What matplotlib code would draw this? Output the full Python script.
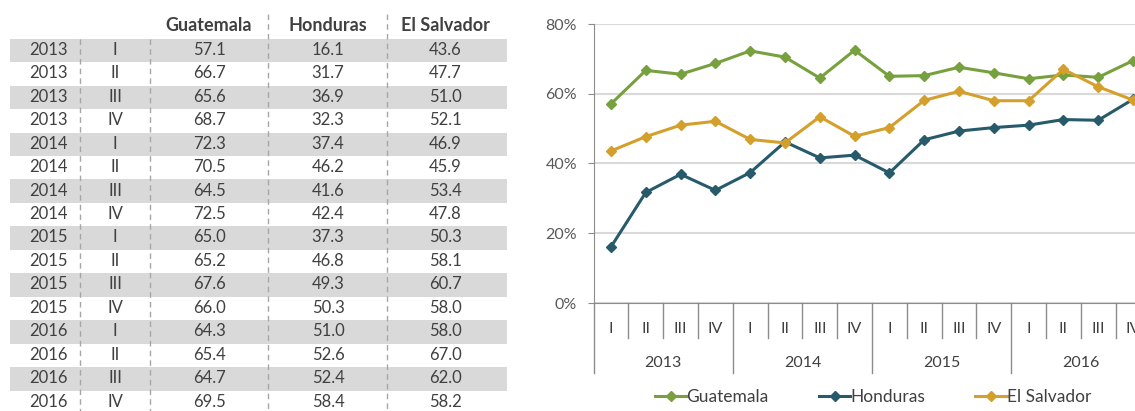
import matplotlib.pyplot as plt
from matplotlib.ticker import PercentFormatter
import matplotlib.transforms as mtransforms

plt.rcParams['font.family'] = ['Lato', 'DejaVu Sans']

# datos
years = ["2013"] * 4 + ["2014"] * 4 + ["2015"] * 4 + ["2016"] * 4
quarters = ["I", "II", "III", "IV"] * 4
guatemala = [57.1, 66.7, 65.6, 68.7, 72.3, 70.5, 64.5, 72.5,
             65.0, 65.2, 67.6, 66.0, 64.3, 65.4, 64.7, 69.5]
honduras = [16.1, 31.7, 36.9, 32.3, 37.4, 46.2, 41.6, 42.4,
            37.3, 46.8, 49.3, 50.3, 51.0, 52.6, 52.4, 58.4]
el_salvador = [43.6, 47.7, 51.0, 52.1, 46.9, 45.9, 53.4, 47.8,
               50.3, 58.1, 60.7, 58.0, 58.0, 67.0, 62.0, 58.2]
countries = ["Guatemala", "Honduras", "El Salvador"]
colors = ["#77a03f", "#275b6b", "#d4a02b"]

W, H = 1135, 411
fig = plt.figure(figsize=(W / 100, H / 100), dpi=100)

# ---- tabla ----
row_h = 23.45
top = 13
n = len(years)
tab_left, tab_w = 10, 497
tab_bottom = top + (n + 1.1) * row_h
ax_t = fig.add_axes([tab_left / W, 1 - tab_bottom / H, tab_w / W, (tab_bottom - top) / H])
ax_t.set_xlim(0, tab_w)
ax_t.set_ylim(n, -1.1)
ax_t.axis("off")

txt_color = "#404040"
col_x = [38, 105, 199, 318, 435]
sep_x = [70, 140, 258, 377]
for j, name in enumerate(countries):
    ax_t.text(col_x[j + 2], -0.55, name, ha="center", va="center",
              fontsize=13, fontweight="bold", color=txt_color)
for i in range(n):
    if i % 2 == 0:
        ax_t.axhspan(i, i + 1, color="#d9d9d9", lw=0)
    vals = [years[i], quarters[i], f"{guatemala[i]:.1f}", f"{honduras[i]:.1f}",
            f"{el_salvador[i]:.1f}"]
    for j, v in enumerate(vals):
        ax_t.text(col_x[j], i + 0.47, v, ha="center", va="center",
                  fontsize=12, color=txt_color)
for k, x in enumerate(sep_x):
    y0 = -1.05 if k >= 2 else 0
    ax_t.plot([x, x], [y0, n], color="#a6a6a6", lw=1, ls=(0, (4, 3)))

# ---- grafico ----
cat_w = 34.8
ax_left = 593.6
ax_top, ax_bot = 24, 303
ax = fig.add_axes([ax_left / W, 1 - ax_bot / H, n * cat_w / W, (ax_bot - ax_top) / H])
x = list(range(n))
for vals, name, c in zip([guatemala, honduras, el_salvador], countries, colors):
    ax.plot(x, vals, color=c, lw=2.2, marker="D", markersize=5.5, label=name,
            clip_on=False, zorder=3)
ax.set_xlim(-0.5, n - 0.5)
ax.set_ylim(0, 80)
ax.set_yticks([0, 20, 40, 60, 80])
ax.yaxis.set_major_formatter(PercentFormatter(decimals=0))
ax.grid(axis="y", color="#d9d9d9", lw=1.5)
ax.set_axisbelow(True)
for s in ["top", "right"]:
    ax.spines[s].set_visible(False)
ax.spines["left"].set_color("#8c8c8c")
ax.spines["bottom"].set_color("#8c8c8c")
ax.tick_params(axis="y", length=4, color="#8c8c8c", labelsize=11.5,
               labelcolor="#595959", pad=8)
ax.set_xticks([])

trans = mtransforms.blended_transform_factory(ax.transData, ax.transAxes)
span = ax_bot - ax_top
q_depth = -(338 - ax_bot) / span
y_depth = -(373 - ax_bot) / span
for i in range(n + 1):
    d = y_depth if i % 4 == 0 else q_depth
    ax.plot([i - 0.5, i - 0.5], [0, d], color="#8c8c8c", lw=1, transform=trans, clip_on=False)
for i in range(n):
    ax.text(i, -(329 - ax_bot) / span, quarters[i], transform=trans,
            ha="center", va="center", fontsize=11.5, color="#404040")
for k in range(0, n, 4):
    ax.text(k + 1.5, -(363 - ax_bot) / span, years[k], transform=trans,
            ha="center", va="center", fontsize=11.5, color="#404040")

fig.legend(loc="center", bbox_to_anchor=(873 / W, 1 - 397 / H), ncol=3, frameon=False,
           handlelength=1.8, handletextpad=0.0, columnspacing=2.9, fontsize=12.5,
           labelcolor="#404040")

fig.savefig("out.png", dpi=100)
